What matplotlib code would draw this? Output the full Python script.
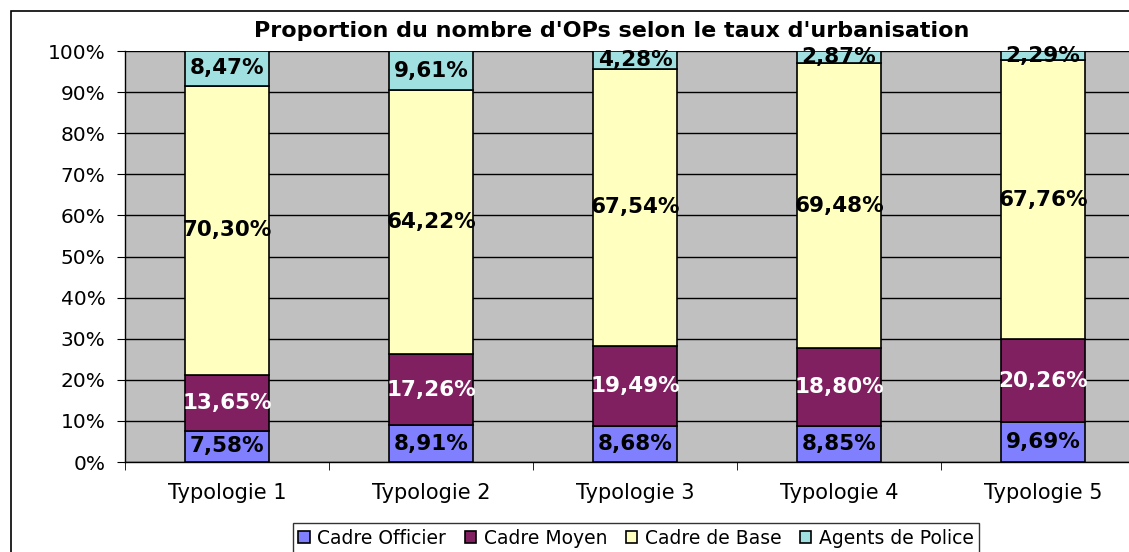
import matplotlib.pyplot as plt
from matplotlib.patches import Rectangle

plt.rcParams['font.family'] = ['DejaVu Sans']

categories = ['Typologie 1', 'Typologie 2', 'Typologie 3', 'Typologie 4', 'Typologie 5']
series = ['Cadre Officier', 'Cadre Moyen', 'Cadre de Base', 'Agents de Police']
officier = [7.58, 8.91, 8.68, 8.85, 9.69]
moyen = [13.65, 17.26, 19.49, 18.80, 20.26]
base = [70.30, 64.22, 67.54, 69.48, 67.76]
agents = [8.47, 9.61, 4.28, 2.87, 2.29]
colors = ['#8080FF', '#802060', '#FFFFC0', '#A0E0E0']
label_colors = ['black', 'white', 'black', 'black']

fig = plt.figure(figsize=(11.29, 5.52), dpi=100)
# chart border (extends past the right/bottom edge like the original)
fig.patches.append(Rectangle((11 / 1129, -0.05), 1.1, 1 - 11 / 552 + 0.05,
                             transform=fig.transFigure, fill=False,
                             edgecolor='black', linewidth=1.2))

ax = fig.add_axes([125 / 1129, 90 / 552, 1020 / 1129, 411 / 552])
ax.set_facecolor('#C0C0C0')

x = range(len(categories))
bottom = [0] * len(categories)
for name, vals, col, lc in zip(series, [officier, moyen, base, agents], colors, label_colors):
    bars = ax.bar(x, vals, 0.41, bottom=bottom, color=col, edgecolor='black',
                  linewidth=1.2, label=name, zorder=3)
    for b, v, b0 in zip(bars, vals, bottom):
        ax.text(b.get_x() + b.get_width() / 2, b0 + v / 2,
                ('%.2f%%' % v).replace('.', ','), ha='center', va='center',
                fontsize=15.5, fontweight='bold', color=lc, zorder=4)
    bottom = [a + c for a, c in zip(bottom, vals)]

ax.set_xlim(-0.5, 4.5)
ax.set_ylim(0, 100)
ax.set_yticks(range(0, 101, 10))
ax.set_yticklabels(['%d%%' % t for t in range(0, 101, 10)], fontsize=14.5)
ax.yaxis.grid(True, color='black', linewidth=1, zorder=1)
ax.set_axisbelow(True)
ax.set_xticks(list(x))
ax.set_xticklabels(categories, fontsize=15)
ax.tick_params(axis='x', length=0, pad=15)
ax.set_xticks([i - 0.5 for i in range(len(categories) + 1)], minor=True)
ax.tick_params(axis='x', which='minor', length=6, color='black')
ax.tick_params(axis='y', length=6, color='black', pad=8)
for s in ['top', 'right']:
    ax.spines[s].set_visible(False)
for s in ['left', 'bottom']:
    ax.spines[s].set_color('black')
    ax.spines[s].set_linewidth(1)

fig.text(612 / 1129, 1 - 31 / 552, "Proportion du nombre d'OPs selon le taux d'urbanisation",
         ha='center', va='center', fontsize=16, fontweight='bold')

leg = fig.legend(loc='center', bbox_to_anchor=(636 / 1129, 1 - 538 / 552), ncol=4,
                 fontsize=13.5, frameon=True, fancybox=False, handlelength=0.6,
                 handleheight=0.6, handletextpad=0.4, columnspacing=1.0,
                 borderpad=0.3)
leg.get_frame().set_edgecolor('black')
leg.get_frame().set_linewidth(1)

fig.savefig('out.png', dpi=100)
